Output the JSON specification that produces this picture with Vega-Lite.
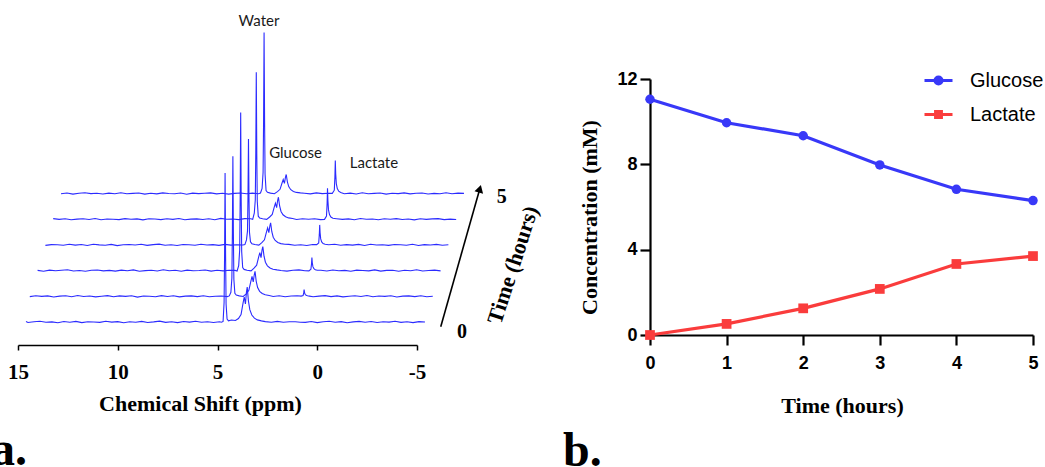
{
  "$schema": "https://vega.github.io/schema/vega-lite/v6.json",
  "width": 1045,
  "height": 467,
  "autosize": {"type": "none"},
  "padding": 0,
  "background": "white",
  "config": {"view": {"stroke": null}, "axis": {"grid": false}},
  "datasets": {
    "spec": [
      {"t":0,"p":14.6,"v":0.4},{"t":0,"p":14.5,"v":-0.5},{"t":0,"p":14.2,"v":0.2},{"t":0,"p":13.9,"v":0.7},{"t":0,"p":13.6,"v":-0.3},{"t":0,"p":13.3,"v":0.1},{"t":0,"p":13.0,"v":-0.8},{"t":0,"p":12.7,"v":0.5},{"t":0,"p":12.4,"v":-0.2},{"t":0,"p":12.1,"v":0.6},{"t":0,"p":11.8,"v":-0.6},{"t":0,"p":11.5,"v":0.3},{"t":0,"p":11.2,"v":0.0},{"t":0,"p":10.9,"v":-0.4},{"t":0,"p":10.6,"v":0.8},{"t":0,"p":10.3,"v":-0.1},{"t":0,"p":10.0,"v":0.4},{"t":0,"p":9.7,"v":-0.7},{"t":0,"p":9.4,"v":0.2},{"t":0,"p":9.1,"v":-0.3},{"t":0,"p":8.8,"v":0.6},{"t":0,"p":8.5,"v":-0.5},{"t":0,"p":8.2,"v":0.1},{"t":0,"p":7.9,"v":0.9},{"t":0,"p":7.6,"v":-0.4},{"t":0,"p":7.3,"v":0.3},{"t":0,"p":7.0,"v":-0.6},{"t":0,"p":6.7,"v":0.5},{"t":0,"p":6.4,"v":-0.1},{"t":0,"p":6.1,"v":0.7},{"t":0,"p":5.8,"v":-0.3},{"t":0,"p":5.5,"v":0.2},{"t":0,"p":5.2,"v":-0.5},
      {"t":0,"p":4.9,"v":0.3},{"t":0,"p":4.8,"v":-0.2},{"t":0,"p":4.72,"v":0.5},{"t":0,"p":4.67,"v":19.4},{"t":0,"p":4.645,"v":67},{"t":0,"p":4.62,"v":149},{"t":0,"p":4.595,"v":67},{"t":0,"p":4.57,"v":17.9},{"t":0,"p":4.52,"v":3},{"t":0,"p":4.45,"v":1.2},{"t":0,"p":4.3,"v":2.0},{"t":0,"p":4.1,"v":1.5},{"t":0,"p":3.95,"v":3.5},{"t":0,"p":3.82,"v":7.5},{"t":0,"p":3.72,"v":18.8},{"t":0,"p":3.66,"v":25},{"t":0,"p":3.6,"v":18},{"t":0,"p":3.55,"v":29.8},{"t":0,"p":3.51,"v":35},{"t":0,"p":3.45,"v":21},{"t":0,"p":3.38,"v":12.3},{"t":0,"p":3.28,"v":7},{"t":0,"p":3.15,"v":3.9},{"t":0,"p":3.0,"v":2.1},{"t":0,"p":2.8,"v":1.1},
      {"t":0,"p":2.6,"v":0.4},{"t":0,"p":2.3,"v":-0.3},{"t":0,"p":2.0,"v":0.6},{"t":0,"p":1.7,"v":-0.2},{"t":0,"p":1.4,"v":0.3},{"t":0,"p":1.1,"v":0.2},{"t":0,"p":0.85,"v":-0.3},
      {"t":0,"p":0.6,"v":-0.4},{"t":0,"p":0.3,"v":0.5},{"t":0,"p":0.0,"v":-0.6},{"t":0,"p":-0.3,"v":0.2},{"t":0,"p":-0.6,"v":0.8},{"t":0,"p":-0.9,"v":-0.3},{"t":0,"p":-1.2,"v":0.4},{"t":0,"p":-1.5,"v":-0.7},{"t":0,"p":-1.8,"v":0.1},{"t":0,"p":-2.1,"v":0.6},{"t":0,"p":-2.4,"v":-0.2},{"t":0,"p":-2.7,"v":0.5},{"t":0,"p":-3.0,"v":-0.5},{"t":0,"p":-3.3,"v":0.3},{"t":0,"p":-3.6,"v":-0.1},{"t":0,"p":-3.9,"v":0.7},{"t":0,"p":-4.2,"v":-0.4},{"t":0,"p":-4.5,"v":0.2},{"t":0,"p":-4.8,"v":-0.6},{"t":0,"p":-5.1,"v":0.4},{"t":0,"p":-5.4,"v":0.0},

      {"t":1,"p":14.8,"v":-0.3},{"t":1,"p":14.5,"v":0.6},{"t":1,"p":14.2,"v":-0.1},{"t":1,"p":13.9,"v":0.4},{"t":1,"p":13.6,"v":-0.7},{"t":1,"p":13.3,"v":0.2},{"t":1,"p":13.0,"v":0.5},{"t":1,"p":12.7,"v":-0.4},{"t":1,"p":12.4,"v":0.8},{"t":1,"p":12.1,"v":-0.2},{"t":1,"p":11.8,"v":0.3},{"t":1,"p":11.5,"v":-0.6},{"t":1,"p":11.2,"v":0.1},{"t":1,"p":10.9,"v":0.7},{"t":1,"p":10.6,"v":-0.5},{"t":1,"p":10.3,"v":0.4},{"t":1,"p":10.0,"v":-0.1},{"t":1,"p":9.7,"v":0.6},{"t":1,"p":9.4,"v":-0.8},{"t":1,"p":9.1,"v":0.3},{"t":1,"p":8.8,"v":0.0},{"t":1,"p":8.5,"v":-0.4},{"t":1,"p":8.2,"v":0.7},{"t":1,"p":7.9,"v":-0.2},{"t":1,"p":7.6,"v":0.5},{"t":1,"p":7.3,"v":-0.6},{"t":1,"p":7.0,"v":0.2},{"t":1,"p":6.7,"v":0.4},{"t":1,"p":6.4,"v":-0.3},{"t":1,"p":6.1,"v":0.6},{"t":1,"p":5.8,"v":-0.5},{"t":1,"p":5.5,"v":0.1},{"t":1,"p":5.2,"v":0.3},
      {"t":1,"p":4.9,"v":-0.3},{"t":1,"p":4.8,"v":0.4},{"t":1,"p":4.72,"v":4},{"t":1,"p":4.67,"v":18.2},{"t":1,"p":4.645,"v":63},{"t":1,"p":4.62,"v":140},{"t":1,"p":4.595,"v":63},{"t":1,"p":4.57,"v":16.8},{"t":1,"p":4.52,"v":3},{"t":1,"p":4.45,"v":1.2},{"t":1,"p":4.3,"v":0.4},{"t":1,"p":4.1,"v":-0.2},{"t":1,"p":3.95,"v":2.5},{"t":1,"p":3.82,"v":6},{"t":1,"p":3.72,"v":15},{"t":1,"p":3.66,"v":20},{"t":1,"p":3.6,"v":14.4},{"t":1,"p":3.55,"v":21.3},{"t":1,"p":3.51,"v":25},{"t":1,"p":3.45,"v":15},{"t":1,"p":3.38,"v":8.8},{"t":1,"p":3.28,"v":5},{"t":1,"p":3.15,"v":2.8},{"t":1,"p":3.0,"v":1.5},{"t":1,"p":2.8,"v":0.8},
      {"t":1,"p":2.6,"v":-0.2},{"t":1,"p":2.3,"v":0.5},{"t":1,"p":2.0,"v":-0.4},{"t":1,"p":1.7,"v":0.3},{"t":1,"p":1.4,"v":0.6},
      {"t":1,"p":1.2,"v":0.2},{"t":1,"p":1.1,"v":0.7},{"t":1,"p":1.07,"v":3.4},{"t":1,"p":1.05,"v":6.7},{"t":1,"p":1.03,"v":4},{"t":1,"p":1.0,"v":2},{"t":1,"p":0.95,"v":1},{"t":1,"p":0.88,"v":0.5},{"t":1,"p":0.78,"v":0.2},
      {"t":1,"p":0.6,"v":-0.5},{"t":1,"p":0.3,"v":0.2},{"t":1,"p":0.0,"v":0.7},{"t":1,"p":-0.3,"v":-0.3},{"t":1,"p":-0.6,"v":0.4},{"t":1,"p":-0.9,"v":-0.6},{"t":1,"p":-1.2,"v":0.1},{"t":1,"p":-1.5,"v":0.5},{"t":1,"p":-1.8,"v":-0.2},{"t":1,"p":-2.1,"v":0.8},{"t":1,"p":-2.4,"v":-0.4},{"t":1,"p":-2.7,"v":0.3},{"t":1,"p":-3.0,"v":-0.1},{"t":1,"p":-3.3,"v":0.6},{"t":1,"p":-3.6,"v":-0.7},{"t":1,"p":-3.9,"v":0.2},{"t":1,"p":-4.2,"v":0.4},{"t":1,"p":-4.5,"v":-0.3},{"t":1,"p":-4.8,"v":0.5},{"t":1,"p":-5.1,"v":-0.5},{"t":1,"p":-5.4,"v":0.1},

      {"t":2,"p":14.8,"v":0.2},{"t":2,"p":14.5,"v":-0.6},{"t":2,"p":14.2,"v":0.5},{"t":2,"p":13.9,"v":-0.1},{"t":2,"p":13.6,"v":0.3},{"t":2,"p":13.3,"v":0.8},{"t":2,"p":13.0,"v":-0.4},{"t":2,"p":12.7,"v":0.1},{"t":2,"p":12.4,"v":-0.7},{"t":2,"p":12.1,"v":0.4},{"t":2,"p":11.8,"v":0.6},{"t":2,"p":11.5,"v":-0.3},{"t":2,"p":11.2,"v":0.2},{"t":2,"p":10.9,"v":-0.5},{"t":2,"p":10.6,"v":0.5},{"t":2,"p":10.3,"v":-0.2},{"t":2,"p":10.0,"v":0.7},{"t":2,"p":9.7,"v":-0.6},{"t":2,"p":9.4,"v":0.0},{"t":2,"p":9.1,"v":0.4},{"t":2,"p":8.8,"v":-0.4},{"t":2,"p":8.5,"v":0.9},{"t":2,"p":8.2,"v":-0.1},{"t":2,"p":7.9,"v":0.3},{"t":2,"p":7.6,"v":-0.7},{"t":2,"p":7.3,"v":0.5},{"t":2,"p":7.0,"v":-0.2},{"t":2,"p":6.7,"v":0.1},{"t":2,"p":6.4,"v":0.6},{"t":2,"p":6.1,"v":-0.5},{"t":2,"p":5.8,"v":0.3},{"t":2,"p":5.5,"v":-0.3},{"t":2,"p":5.2,"v":0.4},
      {"t":2,"p":4.9,"v":0.2},{"t":2,"p":4.8,"v":-0.4},{"t":2,"p":4.72,"v":5},{"t":2,"p":4.67,"v":20.5},{"t":2,"p":4.645,"v":71},{"t":2,"p":4.62,"v":158},{"t":2,"p":4.595,"v":71},{"t":2,"p":4.57,"v":19},{"t":2,"p":4.52,"v":3},{"t":2,"p":4.45,"v":1.2},{"t":2,"p":4.3,"v":0.4},{"t":2,"p":4.1,"v":-0.2},{"t":2,"p":3.95,"v":2.4},{"t":2,"p":3.82,"v":5.4},{"t":2,"p":3.72,"v":13.5},{"t":2,"p":3.66,"v":18},{"t":2,"p":3.6,"v":13},{"t":2,"p":3.55,"v":20.4},{"t":2,"p":3.51,"v":24},{"t":2,"p":3.45,"v":14.4},{"t":2,"p":3.38,"v":8.4},{"t":2,"p":3.28,"v":4.8},{"t":2,"p":3.15,"v":2.6},{"t":2,"p":3.0,"v":1.4},{"t":2,"p":2.8,"v":0.7},
      {"t":2,"p":2.6,"v":0.1},{"t":2,"p":2.3,"v":-0.5},{"t":2,"p":2.0,"v":0.4},{"t":2,"p":1.7,"v":0.7},{"t":2,"p":1.4,"v":-0.2},
      {"t":2,"p":1.2,"v":-0.3},{"t":2,"p":1.1,"v":1.3},{"t":2,"p":1.07,"v":6.5},{"t":2,"p":1.05,"v":13},{"t":2,"p":1.03,"v":7.8},{"t":2,"p":1.0,"v":3.9},{"t":2,"p":0.95,"v":2},{"t":2,"p":0.88,"v":0.9},{"t":2,"p":0.78,"v":0.4},
      {"t":2,"p":0.6,"v":0.3},{"t":2,"p":0.3,"v":-0.4},{"t":2,"p":0.0,"v":0.6},{"t":2,"p":-0.3,"v":-0.1},{"t":2,"p":-0.6,"v":0.2},{"t":2,"p":-0.9,"v":-0.7},{"t":2,"p":-1.2,"v":0.5},{"t":2,"p":-1.5,"v":0.1},{"t":2,"p":-1.8,"v":-0.3},{"t":2,"p":-2.1,"v":0.7},{"t":2,"p":-2.4,"v":-0.5},{"t":2,"p":-2.7,"v":0.2},{"t":2,"p":-3.0,"v":0.4},{"t":2,"p":-3.3,"v":-0.6},{"t":2,"p":-3.6,"v":0.3},{"t":2,"p":-3.9,"v":-0.2},{"t":2,"p":-4.2,"v":0.8},{"t":2,"p":-4.5,"v":-0.4},{"t":2,"p":-4.8,"v":0.1},{"t":2,"p":-5.1,"v":0.5},{"t":2,"p":-5.4,"v":-0.3},

      {"t":3,"p":14.8,"v":-0.5},{"t":3,"p":14.5,"v":0.3},{"t":3,"p":14.2,"v":0.1},{"t":3,"p":13.9,"v":-0.4},{"t":3,"p":13.6,"v":0.6},{"t":3,"p":13.3,"v":-0.2},{"t":3,"p":13.0,"v":0.4},{"t":3,"p":12.7,"v":-0.6},{"t":3,"p":12.4,"v":0.7},{"t":3,"p":12.1,"v":0.0},{"t":3,"p":11.8,"v":-0.3},{"t":3,"p":11.5,"v":0.5},{"t":3,"p":11.2,"v":-0.7},{"t":3,"p":10.9,"v":0.2},{"t":3,"p":10.6,"v":0.4},{"t":3,"p":10.3,"v":-0.1},{"t":3,"p":10.0,"v":0.6},{"t":3,"p":9.7,"v":-0.5},{"t":3,"p":9.4,"v":0.3},{"t":3,"p":9.1,"v":0.8},{"t":3,"p":8.8,"v":-0.3},{"t":3,"p":8.5,"v":0.1},{"t":3,"p":8.2,"v":-0.6},{"t":3,"p":7.9,"v":0.4},{"t":3,"p":7.6,"v":0.2},{"t":3,"p":7.3,"v":-0.4},{"t":3,"p":7.0,"v":0.7},{"t":3,"p":6.7,"v":-0.1},{"t":3,"p":6.4,"v":0.3},{"t":3,"p":6.1,"v":-0.5},{"t":3,"p":5.8,"v":0.5},{"t":3,"p":5.5,"v":-0.2},{"t":3,"p":5.2,"v":0.1},
      {"t":3,"p":4.9,"v":-0.1},{"t":3,"p":4.8,"v":0.3},{"t":3,"p":4.72,"v":5},{"t":3,"p":4.67,"v":13.8},{"t":3,"p":4.645,"v":47.7},{"t":3,"p":4.62,"v":106},{"t":3,"p":4.595,"v":47.7},{"t":3,"p":4.57,"v":12.7},{"t":3,"p":4.52,"v":3},{"t":3,"p":4.45,"v":1.2},{"t":3,"p":4.3,"v":0.4},{"t":3,"p":4.1,"v":-0.2},{"t":3,"p":3.95,"v":2.2},{"t":3,"p":3.82,"v":5.1},{"t":3,"p":3.72,"v":12.8},{"t":3,"p":3.66,"v":17},{"t":3,"p":3.6,"v":12.2},{"t":3,"p":3.55,"v":18.7},{"t":3,"p":3.51,"v":22},{"t":3,"p":3.45,"v":13.2},{"t":3,"p":3.38,"v":7.7},{"t":3,"p":3.28,"v":4.4},{"t":3,"p":3.15,"v":2.4},{"t":3,"p":3.0,"v":1.3},{"t":3,"p":2.8,"v":0.7},
      {"t":3,"p":2.6,"v":0.5},{"t":3,"p":2.3,"v":-0.3},{"t":3,"p":2.0,"v":0.2},{"t":3,"p":1.7,"v":-0.6},{"t":3,"p":1.4,"v":0.4},
      {"t":3,"p":1.2,"v":0.3},{"t":3,"p":1.1,"v":2},{"t":3,"p":1.07,"v":10},{"t":3,"p":1.05,"v":20},{"t":3,"p":1.03,"v":12},{"t":3,"p":1.0,"v":6},{"t":3,"p":0.95,"v":3},{"t":3,"p":0.88,"v":1.4},{"t":3,"p":0.78,"v":0.6},
      {"t":3,"p":0.6,"v":0.2},{"t":3,"p":0.3,"v":0.6},{"t":3,"p":0.0,"v":-0.4},{"t":3,"p":-0.3,"v":0.3},{"t":3,"p":-0.6,"v":-0.2},{"t":3,"p":-0.9,"v":0.5},{"t":3,"p":-1.2,"v":-0.6},{"t":3,"p":-1.5,"v":0.7},{"t":3,"p":-1.8,"v":-0.1},{"t":3,"p":-2.1,"v":0.2},{"t":3,"p":-2.4,"v":-0.5},{"t":3,"p":-2.7,"v":0.4},{"t":3,"p":-3.0,"v":0.1},{"t":3,"p":-3.3,"v":-0.3},{"t":3,"p":-3.6,"v":0.6},{"t":3,"p":-3.9,"v":-0.6},{"t":3,"p":-4.2,"v":0.3},{"t":3,"p":-4.5,"v":-0.1},{"t":3,"p":-4.8,"v":0.5},{"t":3,"p":-5.1,"v":-0.4},{"t":3,"p":-5.4,"v":0.2},

      {"t":4,"p":14.8,"v":0.6},{"t":4,"p":14.5,"v":-0.2},{"t":4,"p":14.2,"v":0.4},{"t":4,"p":13.9,"v":-0.6},{"t":4,"p":13.6,"v":0.1},{"t":4,"p":13.3,"v":0.5},{"t":4,"p":13.0,"v":-0.3},{"t":4,"p":12.7,"v":0.7},{"t":4,"p":12.4,"v":-0.5},{"t":4,"p":12.1,"v":0.2},{"t":4,"p":11.8,"v":0.0},{"t":4,"p":11.5,"v":-0.4},{"t":4,"p":11.2,"v":0.6},{"t":4,"p":10.9,"v":-0.1},{"t":4,"p":10.6,"v":0.3},{"t":4,"p":10.3,"v":-0.7},{"t":4,"p":10.0,"v":0.5},{"t":4,"p":9.7,"v":0.2},{"t":4,"p":9.4,"v":-0.4},{"t":4,"p":9.1,"v":0.4},{"t":4,"p":8.8,"v":-0.2},{"t":4,"p":8.5,"v":0.7},{"t":4,"p":8.2,"v":-0.6},{"t":4,"p":7.9,"v":0.1},{"t":4,"p":7.6,"v":0.3},{"t":4,"p":7.3,"v":-0.3},{"t":4,"p":7.0,"v":0.5},{"t":4,"p":6.7,"v":-0.5},{"t":4,"p":6.4,"v":0.8},{"t":4,"p":6.1,"v":-0.1},{"t":4,"p":5.8,"v":0.2},{"t":4,"p":5.5,"v":-0.4},{"t":4,"p":5.2,"v":0.6},
      {"t":4,"p":4.9,"v":0.4},{"t":4,"p":4.8,"v":-0.1},{"t":4,"p":4.72,"v":6},{"t":4,"p":4.67,"v":19.1},{"t":4,"p":4.645,"v":66},{"t":4,"p":4.62,"v":147},{"t":4,"p":4.595,"v":66},{"t":4,"p":4.57,"v":17.6},{"t":4,"p":4.52,"v":3},{"t":4,"p":4.45,"v":1.2},{"t":4,"p":4.3,"v":0.4},{"t":4,"p":4.1,"v":-0.2},{"t":4,"p":3.95,"v":2.2},{"t":4,"p":3.82,"v":4.8},{"t":4,"p":3.72,"v":12},{"t":4,"p":3.66,"v":16},{"t":4,"p":3.6,"v":11.5},{"t":4,"p":3.55,"v":18.7},{"t":4,"p":3.51,"v":22},{"t":4,"p":3.45,"v":13.2},{"t":4,"p":3.38,"v":7.7},{"t":4,"p":3.28,"v":4.4},{"t":4,"p":3.15,"v":2.4},{"t":4,"p":3.0,"v":1.3},{"t":4,"p":2.8,"v":0.7},
      {"t":4,"p":2.6,"v":-0.3},{"t":4,"p":2.3,"v":0.4},{"t":4,"p":2.0,"v":-0.1},{"t":4,"p":1.7,"v":0.5},{"t":4,"p":1.4,"v":-0.4},
      {"t":4,"p":1.2,"v":-0.2},{"t":4,"p":1.1,"v":3.1},{"t":4,"p":1.07,"v":15.5},{"t":4,"p":1.05,"v":31},{"t":4,"p":1.03,"v":18.6},{"t":4,"p":1.0,"v":9.3},{"t":4,"p":0.95,"v":4.7},{"t":4,"p":0.88,"v":2.2},{"t":4,"p":0.78,"v":0.9},
      {"t":4,"p":0.6,"v":0.5},{"t":4,"p":0.3,"v":-0.2},{"t":4,"p":0.0,"v":0.3},{"t":4,"p":-0.3,"v":-0.6},{"t":4,"p":-0.6,"v":0.7},{"t":4,"p":-0.9,"v":-0.1},{"t":4,"p":-1.2,"v":0.2},{"t":4,"p":-1.5,"v":-0.5},{"t":4,"p":-1.8,"v":0.4},{"t":4,"p":-2.1,"v":0.0},{"t":4,"p":-2.4,"v":0.6},{"t":4,"p":-2.7,"v":-0.3},{"t":4,"p":-3.0,"v":0.2},{"t":4,"p":-3.3,"v":-0.7},{"t":4,"p":-3.6,"v":0.5},{"t":4,"p":-3.9,"v":-0.2},{"t":4,"p":-4.2,"v":0.3},{"t":4,"p":-4.5,"v":0.6},{"t":4,"p":-4.8,"v":-0.4},{"t":4,"p":-5.1,"v":0.1},{"t":4,"p":-5.4,"v":-0.3},

      {"t":5,"p":14.8,"v":-0.2},{"t":5,"p":14.5,"v":0.5},{"t":5,"p":14.2,"v":-0.6},{"t":5,"p":13.9,"v":0.3},{"t":5,"p":13.6,"v":0.7},{"t":5,"p":13.3,"v":-0.1},{"t":5,"p":13.0,"v":0.2},{"t":5,"p":12.7,"v":-0.5},{"t":5,"p":12.4,"v":0.4},{"t":5,"p":12.1,"v":-0.3},{"t":5,"p":11.8,"v":0.8},{"t":5,"p":11.5,"v":-0.2},{"t":5,"p":11.2,"v":0.1},{"t":5,"p":10.9,"v":0.5},{"t":5,"p":10.6,"v":-0.6},{"t":5,"p":10.3,"v":0.3},{"t":5,"p":10.0,"v":-0.4},{"t":5,"p":9.7,"v":0.6},{"t":5,"p":9.4,"v":0.0},{"t":5,"p":9.1,"v":-0.3},{"t":5,"p":8.8,"v":0.5},{"t":5,"p":8.5,"v":-0.7},{"t":5,"p":8.2,"v":0.4},{"t":5,"p":7.9,"v":-0.1},{"t":5,"p":7.6,"v":0.2},{"t":5,"p":7.3,"v":0.6},{"t":5,"p":7.0,"v":-0.4},{"t":5,"p":6.7,"v":0.3},{"t":5,"p":6.4,"v":-0.6},{"t":5,"p":6.1,"v":0.1},{"t":5,"p":5.8,"v":0.5},{"t":5,"p":5.5,"v":-0.2},{"t":5,"p":5.2,"v":0.4},
      {"t":5,"p":4.9,"v":-0.2},{"t":5,"p":4.8,"v":0.5},{"t":5,"p":4.72,"v":5},{"t":5,"p":4.67,"v":20.9},{"t":5,"p":4.645,"v":72.5},{"t":5,"p":4.62,"v":161},{"t":5,"p":4.595,"v":72.5},{"t":5,"p":4.57,"v":19.3},{"t":5,"p":4.52,"v":3},{"t":5,"p":4.45,"v":1.2},{"t":5,"p":4.3,"v":0.4},{"t":5,"p":4.1,"v":-0.2},{"t":5,"p":3.95,"v":1.9},{"t":5,"p":3.82,"v":4.2},{"t":5,"p":3.72,"v":10.5},{"t":5,"p":3.66,"v":14},{"t":5,"p":3.6,"v":10.1},{"t":5,"p":3.55,"v":16.2},{"t":5,"p":3.51,"v":19},{"t":5,"p":3.45,"v":11.4},{"t":5,"p":3.38,"v":6.7},{"t":5,"p":3.28,"v":3.8},{"t":5,"p":3.15,"v":2.1},{"t":5,"p":3.0,"v":1.1},{"t":5,"p":2.8,"v":0.6},
      {"t":5,"p":2.6,"v":0.3},{"t":5,"p":2.3,"v":-0.4},{"t":5,"p":2.0,"v":0.6},{"t":5,"p":1.7,"v":-0.1},{"t":5,"p":1.4,"v":0.2},
      {"t":5,"p":1.2,"v":0.1},{"t":5,"p":1.1,"v":3.3},{"t":5,"p":1.07,"v":16.5},{"t":5,"p":1.05,"v":33},{"t":5,"p":1.03,"v":19.8},{"t":5,"p":1.0,"v":9.9},{"t":5,"p":0.95,"v":5},{"t":5,"p":0.88,"v":2.3},{"t":5,"p":0.78,"v":1},
      {"t":5,"p":0.6,"v":-0.3},{"t":5,"p":0.3,"v":0.4},{"t":5,"p":0.0,"v":-0.5},{"t":5,"p":-0.3,"v":0.7},{"t":5,"p":-0.6,"v":-0.2},{"t":5,"p":-0.9,"v":0.1},{"t":5,"p":-1.2,"v":0.5},{"t":5,"p":-1.5,"v":-0.6},{"t":5,"p":-1.8,"v":0.3},{"t":5,"p":-2.1,"v":-0.1},{"t":5,"p":-2.4,"v":0.6},{"t":5,"p":-2.7,"v":-0.4},{"t":5,"p":-3.0,"v":0.2},{"t":5,"p":-3.3,"v":0.5},{"t":5,"p":-3.6,"v":-0.5},{"t":5,"p":-3.9,"v":0.1},{"t":5,"p":-4.2,"v":-0.2},{"t":5,"p":-4.5,"v":0.7},{"t":5,"p":-4.8,"v":-0.3},{"t":5,"p":-5.1,"v":0.4},{"t":5,"p":-5.4,"v":0.1}
    ],
    "conc": [
      {"time":0,"conc":11.05,"series":"Glucose"},{"time":1,"conc":9.95,"series":"Glucose"},{"time":2,"conc":9.34,"series":"Glucose"},{"time":3,"conc":7.97,"series":"Glucose"},{"time":4,"conc":6.83,"series":"Glucose"},{"time":5,"conc":6.3,"series":"Glucose"},
      {"time":0,"conc":0,"series":"Lactate"},{"time":1,"conc":0.52,"series":"Lactate"},{"time":2,"conc":1.25,"series":"Lactate"},{"time":3,"conc":2.16,"series":"Lactate"},{"time":4,"conc":3.33,"series":"Lactate"},{"time":5,"conc":3.7,"series":"Lactate"}
    ]
  },
  "resolve": {"scale": {"x": "independent", "y": "independent"}, "axis": {"x": "independent", "y": "independent"}},
  "layer": [
    {
      "resolve": {"scale": {"x": "independent", "y": "independent"}, "axis": {"x": "independent", "y": "independent"}},
      "layer": [
        {
          "data": {"name": "spec"},
          "transform": [{"filter": "datum.t == 0"}],
          "mark": {"type": "line", "color": "#2b2bff", "strokeWidth": 1.1},
          "encoding": {
            "x": {"field": "p", "type": "quantitative",
              "scale": {"domain": [15, -5], "range": [18, 417], "nice": false, "zero": false},
              "axis": {"orient": "bottom", "offset": -122, "values": [15, 10, 5, 0, -5], "labelExpr": "'' + datum.value",
                "title": "Chemical Shift (ppm)", "domainColor": "#000", "domainWidth": 1.5, "tickColor": "#000", "tickWidth": 1.5, "tickSize": 5,
                "labelFont": "Liberation Serif", "labelFontWeight": "bold", "labelFontSize": 21, "labelColor": "#000",
                "labelBaseline": "alphabetic", "labelPadding": 28, "labelFlush": false, "labelOverlap": false,
                "titleFont": "Liberation Serif", "titleFontWeight": "bold", "titleFontSize": 22, "titleColor": "#000",
                "titleX": 200, "titleY": 65, "titleBaseline": "alphabetic", "titleAlign": "center"}},
            "y": {"field": "v", "type": "quantitative", "scale": {"domain": [0, 100], "range": [322, 222], "nice": false, "zero": false}, "axis": null}
          }
        },
        {
          "data": {"name": "spec"},
          "transform": [{"filter": "datum.t == 1"}],
          "mark": {"type": "line", "color": "#2b2bff", "strokeWidth": 1.1},
          "encoding": {
            "x": {"field": "p", "type": "quantitative", "scale": {"domain": [15, -5], "range": [25.8, 424.8], "nice": false, "zero": false}, "axis": null},
            "y": {"field": "v", "type": "quantitative", "scale": {"domain": [0, 100], "range": [296.3, 196.3], "nice": false, "zero": false}, "axis": null}
          }
        },
        {
          "data": {"name": "spec"},
          "transform": [{"filter": "datum.t == 2"}],
          "mark": {"type": "line", "color": "#2b2bff", "strokeWidth": 1.1},
          "encoding": {
            "x": {"field": "p", "type": "quantitative", "scale": {"domain": [15, -5], "range": [33.6, 432.6], "nice": false, "zero": false}, "axis": null},
            "y": {"field": "v", "type": "quantitative", "scale": {"domain": [0, 100], "range": [270.6, 170.6], "nice": false, "zero": false}, "axis": null}
          }
        },
        {
          "data": {"name": "spec"},
          "transform": [{"filter": "datum.t == 3"}],
          "mark": {"type": "line", "color": "#2b2bff", "strokeWidth": 1.1},
          "encoding": {
            "x": {"field": "p", "type": "quantitative", "scale": {"domain": [15, -5], "range": [41.4, 440.4], "nice": false, "zero": false}, "axis": null},
            "y": {"field": "v", "type": "quantitative", "scale": {"domain": [0, 100], "range": [244.9, 144.9], "nice": false, "zero": false}, "axis": null}
          }
        },
        {
          "data": {"name": "spec"},
          "transform": [{"filter": "datum.t == 4"}],
          "mark": {"type": "line", "color": "#2b2bff", "strokeWidth": 1.1},
          "encoding": {
            "x": {"field": "p", "type": "quantitative", "scale": {"domain": [15, -5], "range": [49.2, 448.2], "nice": false, "zero": false}, "axis": null},
            "y": {"field": "v", "type": "quantitative", "scale": {"domain": [0, 100], "range": [219.2, 119.2], "nice": false, "zero": false}, "axis": null}
          }
        },
        {
          "data": {"name": "spec"},
          "transform": [{"filter": "datum.t == 5"}],
          "mark": {"type": "line", "color": "#2b2bff", "strokeWidth": 1.1},
          "encoding": {
            "x": {"field": "p", "type": "quantitative", "scale": {"domain": [15, -5], "range": [57, 456], "nice": false, "zero": false}, "axis": null},
            "y": {"field": "v", "type": "quantitative", "scale": {"domain": [0, 100], "range": [193.5, 93.5], "nice": false, "zero": false}, "axis": null}
          }
        },
        {
          "encoding": {
            "x": {"field": "p", "type": "quantitative", "scale": {"domain": [15, -5], "range": [18, 417], "nice": false, "zero": false}, "axis": null},
            "y": {"field": "v", "type": "quantitative", "scale": {"domain": [0, 100], "range": [322, 222], "nice": false, "zero": false}, "axis": null}
          },
          "layer": [
            {
              "data": {"values": [{"p": -6.19, "v": -4.7}, {"p": -8.15, "v": 133.3}]},
              "mark": {"type": "line", "color": "#000", "strokeWidth": 1.6},
              "encoding": {}
            },
            {
              "data": {"values": [{"p": -8.15, "v": 133.3}]},
              "mark": {"type": "point", "shape": "triangle-up", "filled": true, "color": "#000", "size": 80, "angle": 16, "opacity": 1},
              "encoding": {}
            },
            {
              "data": {"values": [{"p": 2.92, "v": 296, "label": "Water"}, {"p": 1.09, "v": 164, "label": "Glucose"}, {"p": -2.84, "v": 153.7, "label": "Lactate"}]},
              "mark": {"type": "text", "font": "Lato", "fontSize": 15, "align": "center", "baseline": "alphabetic", "color": "#1a1a1a"},
              "encoding": {"text": {"field": "label"}}
            },
            {
              "data": {"values": [{"p": -7.26, "v": -16.3, "label": "0"}, {"p": -9.25, "v": 118.7, "label": "5"}]},
              "mark": {"type": "text", "font": "Liberation Serif", "fontWeight": "bold", "fontSize": 20, "align": "center", "baseline": "alphabetic", "color": "#000"},
              "encoding": {"text": {"field": "label"}}
            },
            {
              "data": {"values": [{"p": -9.81, "v": 57, "label": "Time (hours)"}]},
              "mark": {"type": "text", "font": "Liberation Serif", "fontWeight": "bold", "fontSize": 22, "align": "center", "baseline": "middle", "angle": 288, "color": "#000"},
              "encoding": {"text": {"field": "label"}}
            },
            {
              "data": {"values": [{"p": 16.35, "v": -143, "label": "a."}]},
              "mark": {"type": "text", "font": "Liberation Serif", "fontWeight": "bold", "fontSize": 48, "align": "left", "baseline": "alphabetic", "color": "#000"},
              "encoding": {"text": {"field": "label"}}
            }
          ]
        }
      ]
    },
    {
      "encoding": {
        "x": {"field": "time", "type": "quantitative",
          "scale": {"domain": [0, 5], "range": [650, 1033], "nice": false, "zero": false},
          "axis": {"orient": "bottom", "offset": -132, "values": [0, 1, 2, 3, 4, 5], "title": "Time (hours)",
            "domainColor": "#000", "domainWidth": 2.2, "tickColor": "#000", "tickWidth": 2.2, "tickSize": 10,
            "labelFont": "Liberation Sans", "labelFontWeight": "bold", "labelFontSize": 18, "labelColor": "#000",
            "labelBaseline": "alphabetic", "labelPadding": 23, "labelFlush": false,
            "titleFont": "Liberation Serif", "titleFontWeight": "bold", "titleFontSize": 22, "titleColor": "#000",
            "titleX": 842, "titleY": 77, "titleBaseline": "alphabetic", "titleAlign": "center"}},
        "y": {"field": "conc", "type": "quantitative",
          "scale": {"domain": [0, 12], "range": [335, 79], "nice": false, "zero": false},
          "axis": {"orient": "left", "offset": -650, "values": [0, 4, 8, 12], "title": "Concentration (mM)",
            "domainColor": "#000", "domainWidth": 2.2, "tickColor": "#000", "tickWidth": 2.2, "tickSize": 10,
            "labelFont": "Liberation Sans", "labelFontWeight": "bold", "labelFontSize": 18, "labelColor": "#000",
            "labelPadding": 3, "labelFlush": false,
            "titleFont": "Liberation Serif", "titleFontWeight": "bold", "titleFontSize": 22, "titleColor": "#000",
            "titleX": -54, "titleY": 217, "titleAngle": 270, "titleBaseline": "alphabetic", "titleAlign": "center"}}
      },
      "layer": [
        {
          "data": {"name": "conc"},
          "mark": {"type": "line", "strokeWidth": 3.2},
          "encoding": {
            "color": {"field": "series", "type": "nominal",
              "scale": {"domain": ["Glucose", "Lactate"], "range": ["#3838f8", "#fa3c3c"]},
              "legend": {"orient": "none", "legendX": 923, "legendY": 65, "title": null, "padding": 0,
                "symbolSize": 784, "symbolStrokeWidth": 3, "labelFont": "Liberation Sans", "labelFontSize": 20, "labelColor": "#000",
                "labelOffset": 16, "rowPadding": 8,
                "symbolType": {"expr": "datum.value === 'Glucose' ? 'M-1,0L1,0M-0.25,0A0.25,0.25,0,1,1,0.25,0A0.25,0.25,0,1,1,-0.25,0Z' : 'M-1,0L1,0M-0.21,-0.21L0.21,-0.21L0.21,0.21L-0.21,0.21Z'"},
                "encoding": {"symbols": {
                  "shape": {"value": {"expr": "datum.value === 'Glucose' ? 'M-1,0L1,0M-0.25,0A0.25,0.25,0,1,1,0.25,0A0.25,0.25,0,1,1,-0.25,0Z' : 'M-1,0L1,0M-0.21,-0.21L0.21,-0.21L0.21,0.21L-0.21,0.21Z'"}},
                  "fill": {"value": {"expr": "datum.value === 'Glucose' ? '#3838f8' : '#fa3c3c'"}},
                  "stroke": {"value": {"expr": "datum.value === 'Glucose' ? '#3838f8' : '#fa3c3c'"}},
                  "strokeWidth": {"value": 3},
                  "opacity": {"value": 1}
                }}}}
          }
        },
        {
          "data": {"name": "conc"},
          "transform": [{"filter": "datum.series == 'Glucose'"}],
          "mark": {"type": "point", "shape": "circle", "filled": true, "opacity": 1, "size": 90, "color": "#3838f8"},
          "encoding": {}
        },
        {
          "data": {"name": "conc"},
          "transform": [{"filter": "datum.series == 'Lactate'"}],
          "mark": {"type": "point", "shape": "square", "filled": true, "opacity": 1, "size": 95, "color": "#fa3c3c"},
          "encoding": {}
        },
        {
          "data": {"values": [{"time": -1.135, "conc": -6.14, "label": "b."}]},
          "mark": {"type": "text", "font": "Liberation Serif", "fontWeight": "bold", "fontSize": 48, "align": "left", "baseline": "alphabetic", "color": "#000"},
          "encoding": {"text": {"field": "label"}}
        }
      ]
    }
  ]
}
